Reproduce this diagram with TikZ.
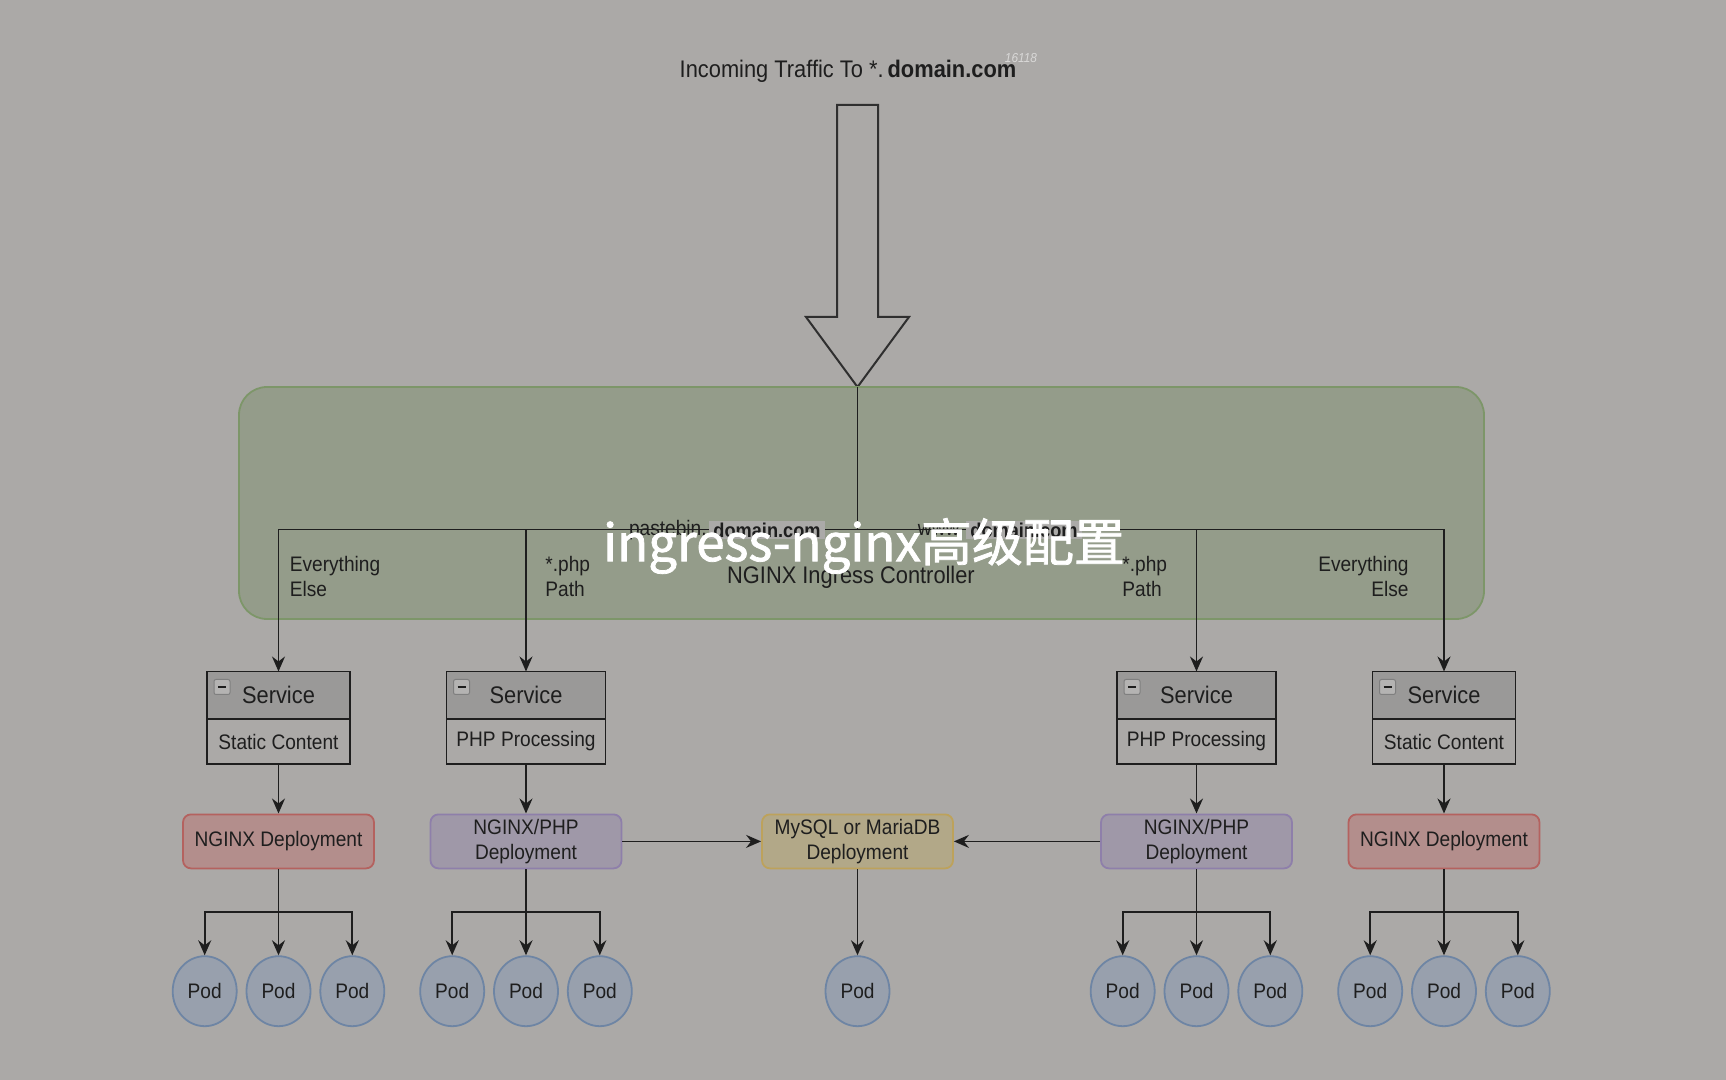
\documentclass[tikz,border=0pt]{standalone}
\usepackage{fontspec}
\setmainfont{Liberation Sans}[FakeStretch=0.91]
\newfontfamily\cjkfont{Noto Sans CJK SC}[FakeBold=1.5]
\usetikzlibrary{shapes,arrows.meta,positioning,calc}
\definecolor{bgc}{HTML}{ABA9A7}
\definecolor{ink}{HTML}{1E1E1E}
\definecolor{arrowline}{HTML}{2F2F2F}
\definecolor{ctrlfill}{HTML}{949C8A}
\definecolor{ctrlline}{HTML}{7D9669}
\definecolor{hdrfill}{HTML}{9A9998}
\definecolor{iconfill}{HTML}{B4B3B2}
\definecolor{iconline}{HTML}{7F7F7F}
\definecolor{ngxfill}{HTML}{B38E8C}
\definecolor{ngxline}{HTML}{B4625F}
\definecolor{phpfill}{HTML}{9F98A8}
\definecolor{phpline}{HTML}{8E7FAA}
\definecolor{dbfill}{HTML}{B2A888}
\definecolor{dbline}{HTML}{BDA25B}
\definecolor{podfill}{HTML}{98A0AD}
\definecolor{podline}{HTML}{6E85A4}
\definecolor{hostbg}{HTML}{ABAAA8}

\begin{document}
\begin{tikzpicture}[x=0.5pt, y=-0.5pt, text=ink, font=\fontsize{10.5}{12.5}\selectfont,
    link/.style={draw=ink, line width=0.9pt, -{Stealth[length=7.5pt, width=6.5pt, inset=2.5pt]}},
    wire/.style={draw=ink, line width=0.9pt},
    svchead/.style={draw=ink, fill=hdrfill, line width=0.8pt, outer sep=0pt, inner sep=0pt, minimum width=#1, minimum height=23.75pt, font=\fontsize{12}{14}\selectfont,
        path picture={
            \draw[draw=iconline, fill=iconfill, line width=0.5pt, rounded corners=1pt] ([shift={(3.5pt,-4pt)}]path picture bounding box.north west) rectangle ++(8pt,-7.5pt);
            \draw[ink, line width=0.8pt] ([shift={(5.5pt,-7.75pt)}]path picture bounding box.north west) -- ++(4pt,0pt);
        }},
    svcbody/.style={draw=ink, fill=bgc, line width=0.8pt, outer sep=0pt, inner sep=0pt, minimum width=#1, minimum height=22.5pt},
    deploy/.style 2 args={draw=#1, fill=#2, line width=0.9pt, rounded corners=4pt, minimum width=95.5pt, minimum height=27pt, inner sep=0pt, align=center},
    pod/.style={ellipse, draw=podline, fill=podfill, line width=0.9pt, minimum width=32pt, minimum height=35pt, inner sep=0pt},
    tag/.style={align=left, inner sep=0pt}]

    \useasboundingbox (0,0) rectangle (1726,1080);
    \fill[bgc] (0,0) rectangle (1726,1080);

    \node[font=\fontsize{12}{14}\selectfont] (title) at (848,71) {Incoming Traffic To *.\,\textbf{domain.com}};
    \node[text=white, opacity=.55, font=\fontsize{6.5}{8}\selectfont\itshape] (mark) at (1021,58) {16118};

    \draw[arrowline, line width=1pt, fill=bgc] (837,105) -- (878,105) -- (878,317) -- (909,317) -- (857.5,387) -- (806,317) -- (837,317) -- cycle;
    \coordinate (tip) at (857.5,387);

    \node[draw=ctrlline, fill=ctrlfill, line width=0.9pt, rounded corners=14pt, minimum width=622.5pt, minimum height=116pt] (ctrl) at (861.5,503) {};
    \coordinate (bus) at (857.5,529.5);

    \node[svchead=71.5pt] (svc1) at (278.5,695.25) {Service};
    \node[svcbody=71.5pt, below=0pt of svc1] (svc1b) {Static Content};
    \node[svchead=79.5pt] (svc2) at (526,695.25) {Service};
    \node[svcbody=79.5pt, below=0pt of svc2] (svc2b) {PHP Processing};
    \node[svchead=79.5pt] (svc3) at (1196.5,695.25) {Service};
    \node[svcbody=79.5pt, below=0pt of svc3] (svc3b) {PHP Processing};
    \node[svchead=71.5pt] (svc4) at (1444,695.25) {Service};
    \node[svcbody=71.5pt, below=0pt of svc4] (svc4b) {Static Content};

    \node[deploy={ngxline}{ngxfill}, below=24.75pt of svc1b] (dep1) {NGINX Deployment};
    \node[deploy={phpline}{phpfill}, below=24.75pt of svc2b] (dep2) {NGINX/PHP\\Deployment};
    \node[deploy={phpline}{phpfill}, below=24.75pt of svc3b] (dep3) {NGINX/PHP\\Deployment};
    \node[deploy={ngxline}{ngxfill}, below=24.75pt of svc4b] (dep4) {NGINX Deployment};
    \node[deploy={dbline}{dbfill}] (db) at (tip |- dep2) {MySQL or MariaDB\\Deployment};

    \node[pod, below=43pt of dep1] (pod1b) {Pod};
    \node[pod, left=4pt of pod1b] (pod1a) {Pod};
    \node[pod, right=4pt of pod1b] (pod1c) {Pod};
    \node[pod, below=43pt of dep2] (pod2b) {Pod};
    \node[pod, left=4pt of pod2b] (pod2a) {Pod};
    \node[pod, right=4pt of pod2b] (pod2c) {Pod};
    \node[pod, below=43pt of db] (poddb) {Pod};
    \node[pod, below=43pt of dep3] (pod3b) {Pod};
    \node[pod, left=4pt of pod3b] (pod3a) {Pod};
    \node[pod, right=4pt of pod3b] (pod3c) {Pod};
    \node[pod, below=43pt of dep4] (pod4b) {Pod};
    \node[pod, left=4pt of pod4b] (pod4a) {Pod};
    \node[pod, right=4pt of pod4b] (pod4c) {Pod};

    \draw[wire] (tip) -- (bus);
    \draw[link] (bus) -| (svc1);
    \draw[link] (bus) -| (svc2);
    \draw[link] (bus) -| (svc3);
    \draw[link] (bus) -| (svc4);

    \draw[link] (svc1b) -- (dep1);
    \draw[link] (svc2b) -- (dep2);
    \draw[link] (svc3b) -- (dep3);
    \draw[link] (svc4b) -- (dep4);
    \draw[link] (dep2) -- (db);
    \draw[link] (dep3) -- (db);
    \draw[link] (db) -- (poddb);

    \coordinate (fork1) at ($(dep1.south)!.5!(pod1b.north)$);
    \draw[link] (dep1) -- (pod1b);
    \draw[link] (fork1) -| (pod1a);
    \draw[link] (fork1) -| (pod1c);
    \coordinate (fork2) at ($(dep2.south)!.5!(pod2b.north)$);
    \draw[link] (dep2) -- (pod2b);
    \draw[link] (fork2) -| (pod2a);
    \draw[link] (fork2) -| (pod2c);
    \coordinate (fork3) at ($(dep3.south)!.5!(pod3b.north)$);
    \draw[link] (dep3) -- (pod3b);
    \draw[link] (fork3) -| (pod3a);
    \draw[link] (fork3) -| (pod3c);
    \coordinate (fork4) at ($(dep4.south)!.5!(pod4b.north)$);
    \draw[link] (dep4) -- (pod4b);
    \draw[link] (fork4) -| (pod4a);
    \draw[link] (fork4) -| (pod4c);

    \node[tag, anchor=west] (else1) at (289.5,576) {Everything\\Else};
    \node[tag, anchor=west] (path1) at (545,576) {*.php\\Path};
    \node[tag, anchor=west] (path2) at (1122,576) {*.php\\Path};
    \node[tag, align=right, anchor=east] (else2) at (1409,576) {Everything\\Else};
    \node[font=\fontsize{12}{14}\selectfont] (ctrlname) at (851,577) {NGINX Ingress Controller};

    \node[fill=hostbg, inner xsep=2pt, inner ysep=1pt, font=\bfseries] (host1) at (767,530) {domain.com};
    \node[left=0pt of host1, inner sep=1pt] (host1pre) {pastebin.};
    \node[fill=hostbg, inner xsep=2pt, inner ysep=1pt, font=\bfseries] (host2) at (1024,530) {domain.com};
    \node[left=0pt of host2, inner sep=1pt] (host2pre) {www.};

    \node[text=white, font=\cjkfont\fontsize{25.5}{30}\selectfont] (caption) at (864,546) {ingress-nginx高级配置};
\end{tikzpicture}
\end{document}
